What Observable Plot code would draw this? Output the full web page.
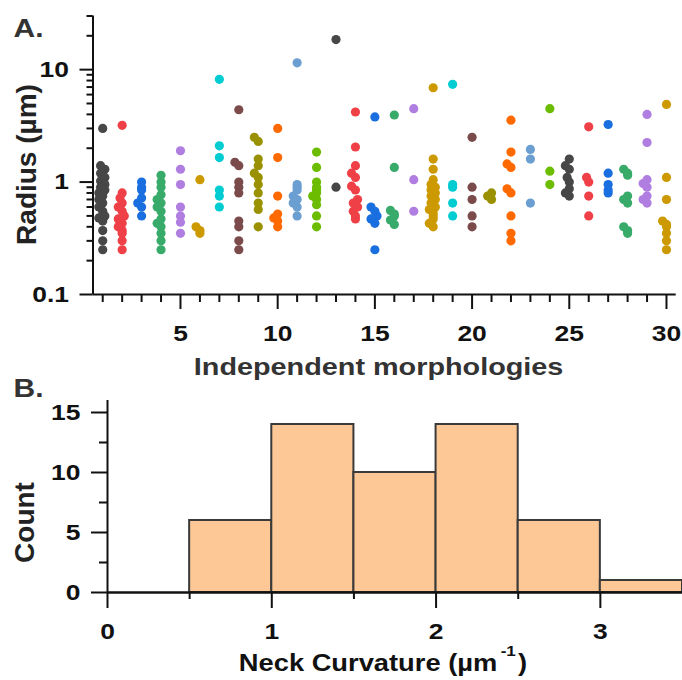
<!DOCTYPE html>
<html><head><meta charset="utf-8">
<script src="https://cdn.jsdelivr.net/npm/d3@7"></script>
<script src="https://cdn.jsdelivr.net/npm/@observablehq/plot@0.6"></script>
<style>
body{margin:0;background:#fff;width:682px;}
svg{display:block}
</style></head><body><div id="a"></div><div id="b"></div>
<script>
// ---------- data ----------
const morphologies = d3.range(1, 31);
const radius = [
  [3.0, 1.4, 1.3, 1.2, 1.1, 1.02, 0.95, 0.9, 0.85, 0.8, 0.75, 0.7, 0.65, 0.6, 0.55, 0.5, 0.48, 0.45, 0.37, 0.3, 0.25],
  [3.2, 0.8, 0.72, 0.65, 0.6, 0.55, 0.5, 0.47, 0.43, 0.4, 0.37, 0.35, 0.3, 0.25],
  [1.0, 0.9, 0.85, 0.72, 0.65, 0.6, 0.5],
  [1.15, 1.0, 0.9, 0.77, 0.7, 0.65, 0.6, 0.55, 0.47, 0.43, 0.4, 0.35, 0.3, 0.25],
  [1.9, 1.3, 0.95, 0.6, 0.5, 0.44, 0.35],
  [1.05, 0.4, 0.37, 0.35],
  [8.2, 2.1, 1.65, 0.85, 0.75, 0.6],
  [4.4, 1.5, 1.4, 1.0, 0.9, 0.8, 0.45, 0.4, 0.3, 0.25],
  [2.5, 2.3, 1.6, 1.4, 1.2, 1.1, 0.95, 0.8, 0.65, 0.57, 0.4],
  [3.0, 1.65, 0.75, 0.52, 0.48, 0.45, 0.4],
  [11.5, 0.95, 0.9, 0.85, 0.75, 0.7, 0.65, 0.6, 0.5],
  [1.85, 1.35, 1.0, 0.9, 0.85, 0.8, 0.75, 0.7, 0.63, 0.5, 0.4],
  [18.5, 0.9],
  [4.2, 2.05, 1.4, 1.2, 1.1, 0.92, 0.85, 0.7, 0.65, 0.6, 0.55, 0.5, 0.47],
  [3.8, 0.6, 0.55, 0.5, 0.47, 0.43, 0.25],
  [3.95, 1.35, 0.56, 0.52, 0.5, 0.46, 0.42],
  [4.5, 1.05, 0.55],
  [6.9, 1.6, 1.3, 1.05, 0.95, 0.9, 0.85, 0.8, 0.75, 0.7, 0.65, 0.6, 0.57, 0.53, 0.5, 0.47, 0.43, 0.4],
  [7.4, 0.95, 0.9, 0.65, 0.5],
  [2.5, 0.9, 0.7, 0.5, 0.4],
  [0.8, 0.75, 0.7],
  [3.55, 1.85, 1.45, 1.35, 0.87, 0.8, 0.5, 0.35, 0.3],
  [1.95, 1.6, 0.65],
  [4.5, 1.25, 0.95],
  [1.6, 1.4, 1.3, 1.1, 1.0, 0.87, 0.8, 0.75],
  [3.1, 1.1, 1.0, 0.75, 0.5],
  [3.25, 1.2, 0.95, 0.85, 0.8],
  [1.3, 1.2, 1.15, 0.75, 0.7, 0.65, 0.4, 0.37, 0.35],
  [4.0, 2.25, 1.05, 0.97, 0.9, 0.75, 0.7, 0.65],
  [4.9, 1.1, 0.7, 0.45, 0.42, 0.4, 0.35, 0.3, 0.25]
];
const palette = ["#474747", "#ee4046", "#1a6fe0", "#38ab6a", "#b07ee0", "#cc9a00",
                 "#00ccd2", "#7b4b4b", "#999100", "#ff6a00", "#6b9fd2", "#6cbc00"];
const xTicksMajor = [5, 10, 15, 20, 25, 30];
const xTicksMinor = morphologies.filter(d => d % 5 !== 0);
const yTicksMajor = [0.1, 1, 10];
const yTicksMinor = [0.2, 0.3, 0.4, 0.5, 0.6, 0.7, 0.8, 0.9, 2, 3, 4, 5, 6, 7, 8, 9, 20, 30];

const binStart = [0.5, 1.0, 1.5, 2.0, 2.5, 3.0];
const binCount = [6, 14, 10, 14, 6, 1];
const binWidth = 0.5;
const curvTicksMajor = [0, 1, 2, 3];
const curvTicksMinor = [0.5, 1.5, 2.5];
const countTicksMajor = [0, 5, 10, 15];
const countTicksMinor = [2.5, 7.5, 12.5];

// ---------- layout helpers ----------
const FONT = '"Liberation Sans", Arial, Helvetica, sans-serif';
const PX_PER_DECADE = 112.2, PX_PER_UNIT = 19.44, MIN_SEP = 5;
function swarm(vals) {
  const placed = [], offs = new Array(vals.length);
  vals.map((v, i) => ({v, i})).sort((a, b) => a.v - b.v).forEach(({v, i}) => {
    const py = Math.log10(v) * PX_PER_DECADE;
    for (const o of [0, -0.11, 0.11, -0.2, 0.2]) {
      const ox = o * PX_PER_UNIT;
      if (placed.every(p => Math.hypot(p.py - py, p.ox - ox) >= MIN_SEP)) { placed.push({py, ox}); offs[i] = o; return; }
    }
    placed.push({py, ox: 0}); offs[i] = 0;
  });
  return offs;
}
const points = [];
morphologies.forEach((m, k) => {
  const offs = swarm(radius[k]);
  radius[k].forEach((v, i) => points.push({m, x: m + offs[i], r: v, color: palette[k % palette.length]}));
});
const bins = binStart.map((s, i) => ({x1: s, x2: s + binWidth, count: binCount[i]}));

// ---------- panel A ----------
const A = Plot.plot({
  width: 682, height: 370,
  marginLeft: 92.5, marginRight: 6.3, marginTop: 15.5, marginBottom: 76,
  style: {fontFamily: FONT, fontWeight: "bold", fontSize: "22px", color: "#111", background: "white", overflow: "visible"},
  x: {domain: [0.5, 30.5], axis: null},
  y: {type: "log", domain: [0.1, 30], axis: null},
  color: {type: "identity"},
  marks: [
    Plot.dot(points, {x: "x", y: "r", r: 4.6, fill: "color", stroke: null}),
    Plot.ruleX([0.5], {y1: 0.1, y2: 30, strokeWidth: 2, stroke: "#111"}),
    Plot.ruleY([0.1], {strokeWidth: 2, stroke: "#111"}),
    Plot.axisY({ticks: yTicksMajor, tickSize: 13, tickPadding: 11, strokeWidth: 2, tickFormat: d => String(d), label: null}),
    Plot.axisY({ticks: yTicksMinor, tickSize: 6, tickPadding: 0, strokeWidth: 2, tickFormat: () => "", label: null}),
    Plot.axisX({ticks: xTicksMajor, tickSize: 15, tickPadding: 16, strokeWidth: 2, tickFormat: d => String(d), label: null}),
    Plot.axisX({ticks: xTicksMinor, tickSize: 8, tickPadding: 0, strokeWidth: 2, tickFormat: () => "", label: null}),
    Plot.text(["A."], {text: d => d, frameAnchor: "top-left", dx: 13 - 92.5, dy: 36 - 15.5, textAnchor: "start", lineAnchor: "bottom", fontSize: 25, fill: "#333"}),
    Plot.text(["Radius (µm)"], {text: d => d, frameAnchor: "left", rotate: -90, dx: 35 - 92.5, dy: 164 - 154.75, textAnchor: "middle", lineAnchor: "bottom", fontSize: 28, fill: "#222"}),
    Plot.text(["Independent morphologies"], {text: d => d, frameAnchor: "bottom", dx: -6, dy: 80, textAnchor: "middle", lineAnchor: "bottom", fontSize: 24, fill: "#333"})
  ]
});

// ---------- panel B ----------
const NECK = "Neck Curvature (µm⁻¹)";
const B = Plot.plot({
  width: 682, height: 310,
  marginLeft: 107, marginRight: 0, marginTop: 30, marginBottom: 88,
  style: {fontFamily: FONT, fontWeight: "bold", fontSize: "22px", color: "#111", background: "white", overflow: "visible"},
  x: {domain: [0, 3.5], axis: null},
  y: {domain: [0, 16], axis: null},
  marks: [
    Plot.rect(bins, {x1: "x1", x2: "x2", y1: 0, y2: "count", fill: "#fdc896", stroke: "#3a3a3a", strokeWidth: 2}),
    Plot.ruleX([0], {y1: 0, y2: 16, strokeWidth: 2, stroke: "#111"}),
    Plot.ruleY([0], {strokeWidth: 2.5, stroke: "#111"}),
    Plot.axisY({ticks: countTicksMajor, tickSize: 16, tickPadding: 11, strokeWidth: 2, tickFormat: d => String(d), label: null}),
    Plot.axisY({ticks: countTicksMinor, tickSize: 8, tickPadding: 0, strokeWidth: 2, tickFormat: () => "", label: null}),
    Plot.axisX({ticks: curvTicksMajor, tickSize: 16, tickPadding: 15, strokeWidth: 2, tickFormat: d => String(d), label: null}),
    Plot.axisX({ticks: curvTicksMinor, tickSize: 7, tickPadding: 0, strokeWidth: 2, tickFormat: () => "", label: null}),
    Plot.text(["B."], {text: d => d, frameAnchor: "top-left", dx: 13 - 107, dy: -4, textAnchor: "start", lineAnchor: "bottom", fontSize: 25, fill: "#333"}),
    Plot.text(["Count"], {text: d => d, frameAnchor: "left", rotate: -90, dx: 33 - 107, dy: 26, textAnchor: "middle", lineAnchor: "bottom", fontSize: 28, fill: "#222"}),
    Plot.text([NECK], {text: d => d, frameAnchor: "bottom", dx: -12, dy: 78, textAnchor: "middle", lineAnchor: "bottom", fontSize: 24, fill: "#111"})
  ]
});

document.getElementById("a").appendChild(A);
document.getElementById("b").appendChild(B);

// superscript for the unit
const SVGNS = "http://www.w3.org/2000/svg";
B.querySelectorAll("text").forEach(t => {
  if (t.textContent === NECK) {
    t.textContent = "";
    t.appendChild(document.createTextNode("Neck Curvature (µm"));
    const sup = document.createElementNS(SVGNS, "tspan");
    sup.setAttribute("dy", "-15"); sup.setAttribute("dx", "3"); sup.setAttribute("font-size", "15");
    sup.textContent = "-1";
    const close = document.createElementNS(SVGNS, "tspan");
    close.setAttribute("dy", "15"); close.setAttribute("dx", "2");
    close.textContent = ")";
    t.appendChild(sup); t.appendChild(close);
  }
});

// horizontal text in the original is slightly wide
function stretch(svg, f, fTitle) {
  svg.querySelectorAll("text").forEach(t => {
    const tr = (t.getAttribute("transform") || "") + (t.parentNode.getAttribute("transform") || "");
    if (tr.includes("rotate")) return;
    const len = t.getComputedTextLength();
    const k = t.textContent.startsWith("Neck") ? fTitle : f;
    if (len > 0) { t.setAttribute("textLength", (len * k).toFixed(1)); t.setAttribute("lengthAdjust", "spacingAndGlyphs"); }
  });
}
stretch(A, 1.2, 1.2);
stretch(B, 1.2, 1.16);
</script></body></html>
